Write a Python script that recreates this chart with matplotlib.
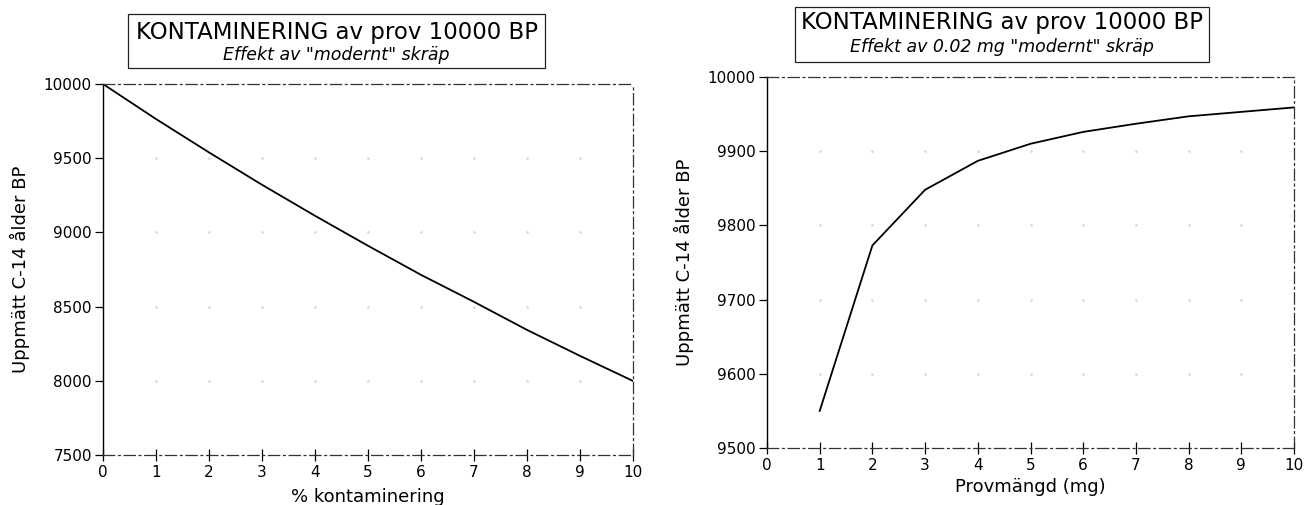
import matplotlib
matplotlib.use("Agg")
import matplotlib.pyplot as plt
from matplotlib.patches import Rectangle

plt.rcParams["font.family"] = ["DejaVu Sans"]

# left panel: % contamination vs measured age
pct = [0, 1, 2, 3, 4, 5, 6, 7, 8, 9, 10]
age_pct = [10000, 9764, 9539, 9321, 9112, 8910, 8714, 8532, 8343, 8168, 7999]
left_yticks = [7500, 8000, 8500, 9000, 9500, 10000]

# right panel: sample mass vs measured age (0.02 mg modern contamination)
mass_mg = [1, 2, 3, 4, 5, 6, 7, 8, 9, 10]
age_mass = [9550, 9773, 9848, 9887, 9910, 9926, 9937, 9947, 9953, 9959]
right_yticks = [9500, 9600, 9700, 9800, 9900, 10000]

xticks = list(range(0, 11))

title = "KONTAMINERING av prov 10000 BP"
subtitle_left = 'Effekt av "modernt" skräp'
subtitle_right = 'Effekt av 0.02 mg "modernt" skräp'
ylabel = "Uppmätt C-14 ålder BP"

W, H = 1304, 505
fig = plt.figure(figsize=(W / 100, H / 100), dpi=100)


def px_box(x0, y0, x1, y1):
    # pixel box (top-left origin) -> figure fraction [left, bottom, width, height]
    return [x0 / W, 1 - y1 / H, (x1 - x0) / W, (y1 - y0) / H]


def style_axes(ax, yticks):
    ax.set_xlim(xticks[0], xticks[-1])
    ax.set_ylim(yticks[0], yticks[-1])
    ax.set_xticks(xticks)
    ax.set_yticks(yticks)
    ax.tick_params(axis="y", direction="out", length=6, width=0.9, labelsize=11, pad=2)
    ax.tick_params(axis="x", direction="inout", length=8, width=0.9, labelsize=11, pad=3)
    for side in ["top", "right", "bottom"]:
        ax.spines[side].set_linestyle((0, (9, 3, 1.5, 3)))
        ax.spines[side].set_linewidth(0.9)
        ax.spines[side].set_color("#333333")
    ax.spines["left"].set_linewidth(1.0)
    # faint dots where the grid lines would cross
    for xv in xticks[1:-1]:
        ax.plot([xv] * (len(yticks) - 2), yticks[1:-1], linestyle="none",
                marker="o", markersize=1.0, color="#dcdcdc")


def title_box(x0, y0, x1, y1, sub, ty, sy):
    fig.patches.append(Rectangle((x0 / W, 1 - y1 / H), (x1 - x0) / W, (y1 - y0) / H,
                                 transform=fig.transFigure, fill=False,
                                 edgecolor="#222222", linewidth=0.9))
    cx = (x0 + x1) / 2 / W
    fig.text(cx, 1 - ty / H, title, ha="center", va="center", fontsize=16.5)
    fig.text(cx, 1 - sy / H, sub, ha="center", va="center", fontsize=12.5, style="italic")


ax1 = fig.add_axes(px_box(103, 84, 633, 455))
style_axes(ax1, left_yticks)
ax1.plot(pct, age_pct, color="black", linewidth=1.3)
ax1.set_xlabel("% kontaminering", fontsize=13, labelpad=6)
ax1.set_ylabel(ylabel, fontsize=13, labelpad=10)
title_box(128, 14, 545, 68, subtitle_left, 32, 55)

ax2 = fig.add_axes(px_box(767, 77, 1294, 448))
style_axes(ax2, right_yticks)
ax2.plot(mass_mg, age_mass, color="black", linewidth=1.3)
ax2.set_xlabel("Provmängd (mg)", fontsize=13, labelpad=4)
ax2.set_ylabel(ylabel, fontsize=13, labelpad=10)
title_box(795, 7, 1209, 62, subtitle_right, 23, 47)

fig.savefig("out.png", dpi=100)
